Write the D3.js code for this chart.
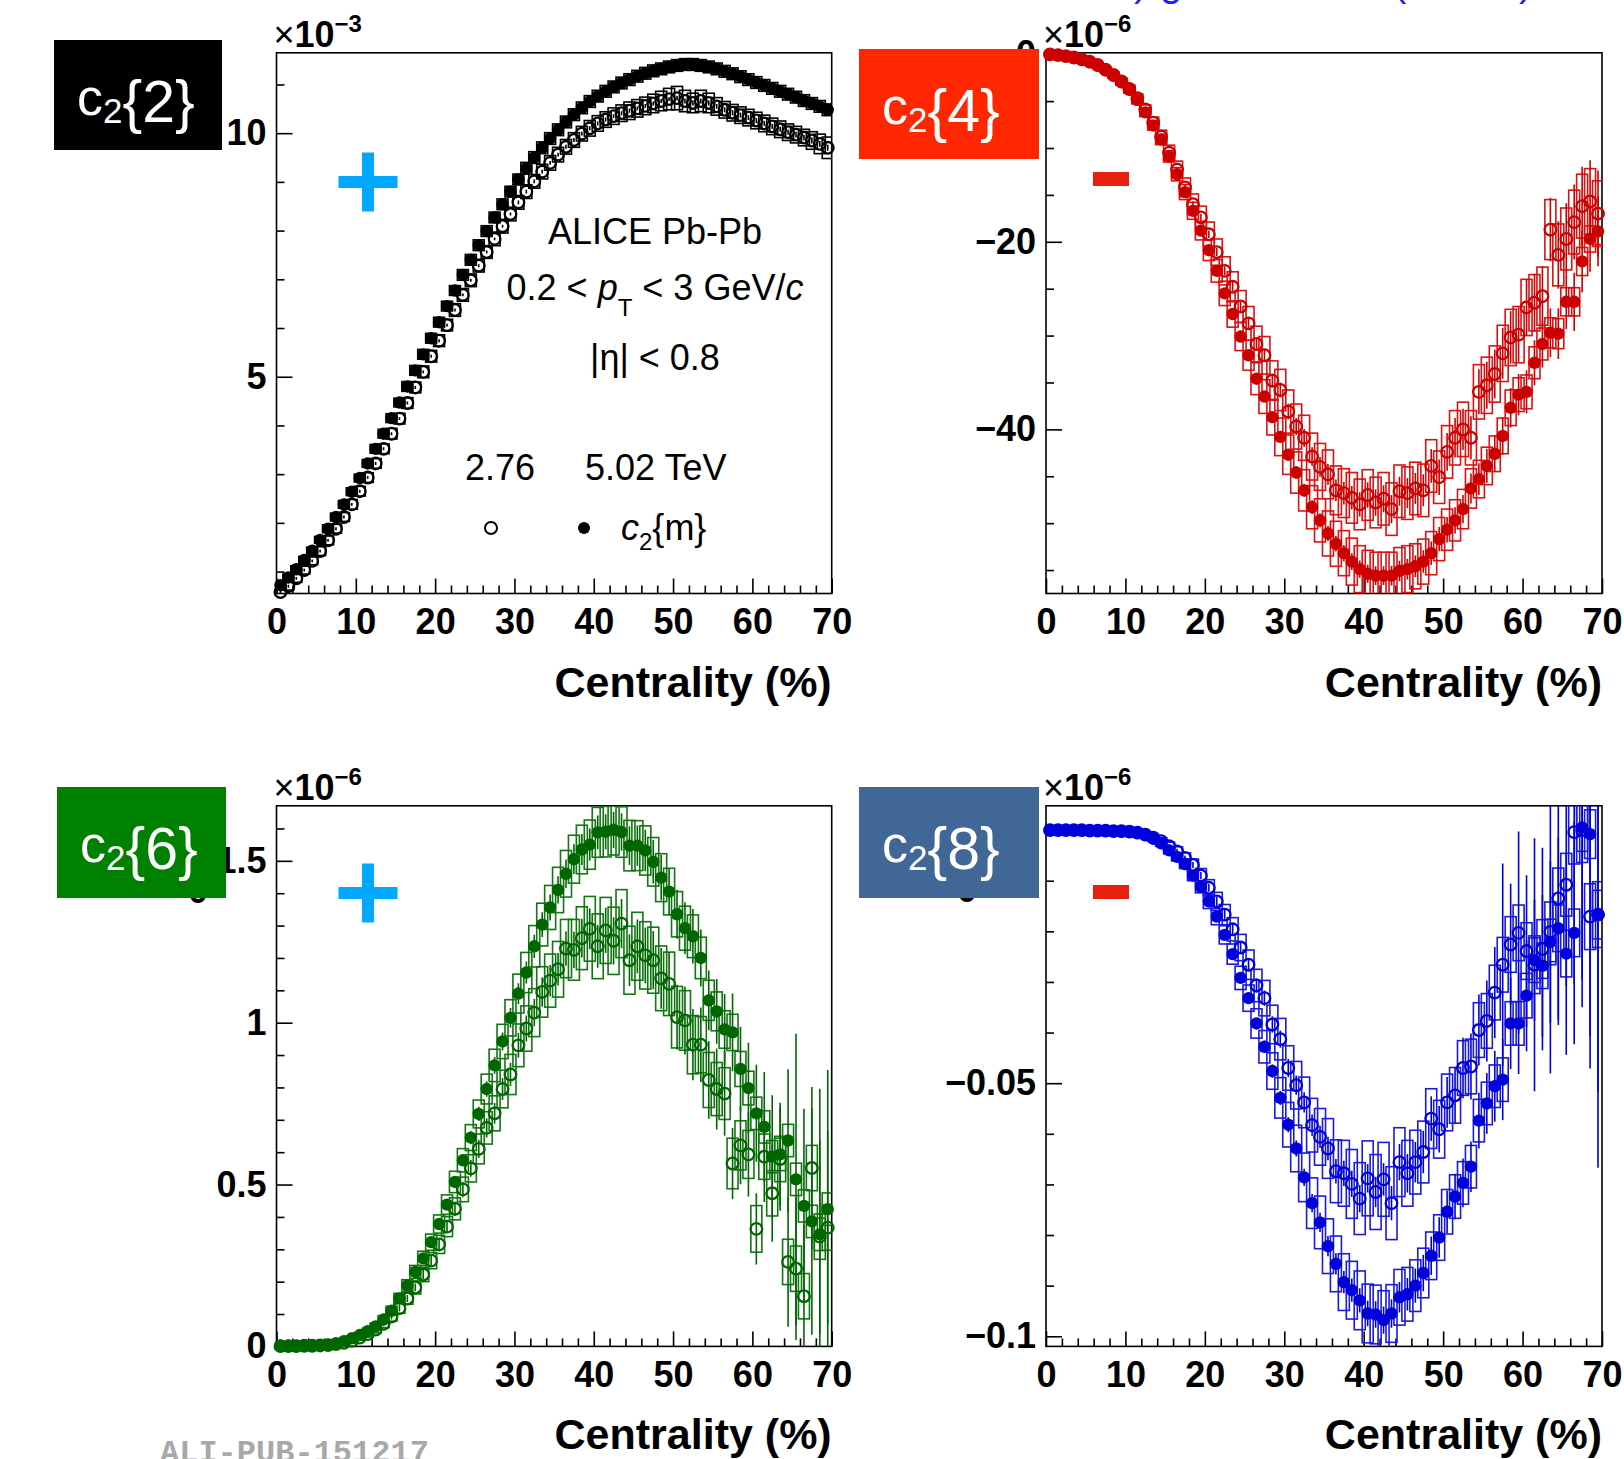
<!DOCTYPE html>
<html><head><meta charset="utf-8">
<script src="https://cdn.jsdelivr.net/npm/d3@7"></script>
<style>
html,body{margin:0;padding:0;background:#fff;overflow:hidden;}
svg{display:block;}
</style></head><body>
<script>
// ---------------- DATA ----------------
const centrality = [0.5,1.5,2.5,3.5,4.5,5.5,6.5,7.5,8.5,9.5,10.5,11.5,12.5,13.5,14.5,15.5,16.5,17.5,18.5,19.5,
 20.5,21.5,22.5,23.5,24.5,25.5,26.5,27.5,28.5,29.5,30.5,31.5,32.5,33.5,34.5,35.5,36.5,37.5,38.5,39.5,
 40.5,41.5,42.5,43.5,44.5,45.5,46.5,47.5,48.5,49.5,50.5,51.5,52.5,53.5,54.5,55.5,56.5,57.5,58.5,59.5,
 60.5,61.5,62.5,63.5,64.5,65.5,66.5,67.5,68.5,69.5];
const xTickLabels = [0,10,20,30,40,50,60,70];
const legendEnergies = ["2.76", "5.02 TeV"];
const panelLabels = ["2","4","6","8"];

// c2{2} (x1e-3)
const c2_2_502 = [0.72,0.88,1.05,1.24,1.43,1.65,1.88,2.12,2.38,2.64,
 2.92,3.22,3.52,3.83,4.15,4.47,4.80,5.13,5.46,5.79,
 6.12,6.45,6.77,7.09,7.40,7.70,7.99,8.27,8.54,8.80,
 9.05,9.28,9.50,9.70,9.89,10.07,10.23,10.38,10.52,10.65,
 10.76,10.86,10.95,11.03,11.10,11.17,11.23,11.28,11.32,11.36,
 11.39,11.41,11.41,11.39,11.36,11.32,11.27,11.22,11.16,11.10,
 11.04,10.98,10.92,10.86,10.80,10.74,10.67,10.61,10.55,10.48];
const c2_2_276 = [0.58,0.70,0.86,1.03,1.22,1.42,1.64,1.88,2.12,2.38,
 2.65,2.93,3.22,3.52,3.83,4.14,4.46,4.78,5.10,5.42,
 5.74,6.06,6.37,6.68,6.98,7.28,7.56,7.83,8.09,8.34,
 8.58,8.80,9.01,9.21,9.39,9.56,9.72,9.86,9.99,10.10,
 10.20,10.28,10.35,10.41,10.46,10.51,10.56,10.61,10.66,10.70,
 10.72,10.66,10.62,10.66,10.62,10.55,10.48,10.42,10.37,10.32,
 10.26,10.20,10.14,10.08,10.02,9.97,9.91,9.85,9.78,9.70];
const sys_2_502 = [0.07,0.07,0.07,0.07,0.07,0.07,0.08,0.08,0.08,0.08,
 0.08,0.08,0.09,0.09,0.09,0.09,0.1,0.1,0.1,0.1,
 0.1,0.1,0.1,0.11,0.11,0.11,0.11,0.11,0.11,0.11,
 0.11,0.12,0.12,0.12,0.12,0.12,0.12,0.12,0.12,0.12,
 0.12,0.12,0.12,0.12,0.12,0.12,0.12,0.12,0.12,0.12,
 0.12,0.12,0.12,0.12,0.12,0.12,0.12,0.12,0.12,0.12,
 0.12,0.12,0.12,0.12,0.12,0.12,0.12,0.12,0.12,0.12];
const sys_2_276 = [0.08,0.08,0.08,0.08,0.08,0.09,0.09,0.09,0.09,0.1,
 0.1,0.1,0.1,0.1,0.11,0.11,0.11,0.11,0.12,0.12,
 0.12,0.12,0.13,0.13,0.13,0.13,0.13,0.14,0.14,0.14,
 0.14,0.14,0.14,0.15,0.15,0.15,0.15,0.15,0.15,0.16,
 0.16,0.16,0.17,0.17,0.18,0.18,0.18,0.19,0.2,0.22,
 0.24,0.22,0.2,0.22,0.2,0.18,0.17,0.17,0.17,0.17,
 0.17,0.17,0.17,0.17,0.17,0.17,0.17,0.18,0.2,0.22];
const stat_2_502 = [0.02,0.02,0.02,0.02,0.02,0.02,0.02,0.02,0.02,0.02,
 0.02,0.02,0.02,0.02,0.02,0.02,0.02,0.02,0.02,0.02,
 0.02,0.02,0.02,0.02,0.02,0.02,0.02,0.02,0.02,0.02,
 0.02,0.02,0.02,0.02,0.02,0.02,0.02,0.02,0.02,0.02,
 0.03,0.03,0.03,0.03,0.03,0.03,0.03,0.03,0.03,0.03,
 0.03,0.03,0.03,0.03,0.03,0.03,0.03,0.03,0.03,0.03,
 0.03,0.03,0.03,0.03,0.03,0.04,0.04,0.04,0.04,0.04];
const stat_2_276 = [0.03,0.03,0.03,0.03,0.03,0.03,0.03,0.03,0.03,0.03,
 0.03,0.03,0.03,0.03,0.03,0.03,0.03,0.03,0.03,0.03,
 0.03,0.03,0.03,0.03,0.03,0.03,0.03,0.03,0.03,0.03,
 0.04,0.04,0.04,0.04,0.04,0.04,0.04,0.04,0.04,0.04,
 0.04,0.04,0.04,0.04,0.04,0.04,0.04,0.04,0.04,0.04,
 0.05,0.05,0.05,0.05,0.05,0.05,0.05,0.05,0.05,0.05,
 0.05,0.05,0.05,0.05,0.05,0.06,0.06,0.06,0.06,0.06];

// c2{4} (x1e-6)
const c2_4_502 = [-0.02,-0.1,-0.2,-0.35,-0.55,-0.8,-1.2,-1.7,-2.3,-3.0,
 -3.8,-4.9,-6.2,-7.6,-9.1,-10.9,-12.8,-14.7,-16.7,-18.8,
 -20.9,-23.1,-25.5,-27.7,-30.1,-32.1,-34.6,-36.5,-38.7,-40.8,
 -42.7,-44.6,-46.5,-48.3,-49.7,-51.1,-52.2,-53.2,-54.1,-54.9,
 -55.4,-55.6,-55.6,-55.6,-55.1,-54.9,-54.6,-54.1,-53.2,-51.7,
 -50.7,-49.7,-48.5,-46.3,-45.3,-43.9,-42.6,-40.7,-37.7,-36.3,
 -36.0,-32.9,-30.9,-29.7,-29.8,-26.4,-26.4,-22.1,-19.7,-18.9];
const c2_4_276 = [-0.02,-0.1,-0.2,-0.35,-0.55,-0.8,-1.15,-1.65,-2.2,-2.9,
 -3.7,-4.7,-5.9,-7.3,-8.8,-10.5,-12.3,-14.2,-16.0,-17.4,
 -19.2,-21.1,-23.1,-24.8,-26.9,-28.7,-30.9,-32.1,-34.8,-35.8,
 -38.1,-39.7,-40.9,-42.9,-44.0,-44.8,-46.5,-46.8,-47.3,-48.0,
 -47.0,-47.8,-47.4,-48.5,-46.6,-46.8,-46.3,-46.5,-43.9,-45.1,
 -42.4,-40.9,-40.0,-40.9,-36.0,-35.3,-34.1,-31.9,-30.2,-29.9,
 -27.0,-26.5,-25.8,-18.7,-21.4,-19.7,-17.9,-16.2,-15.7,-17.0];
const sys_4_502 = [0.1,0.1,0.1,0.1,0.15,0.15,0.2,0.2,0.25,0.3,
 0.35,0.4,0.45,0.5,0.55,0.6,0.7,0.8,0.9,1.0,
 1.1,1.2,1.3,1.4,1.5,1.6,1.7,1.8,1.9,2.0,
 2.1,2.2,2.2,2.3,2.3,2.4,2.4,2.4,2.5,2.5,
 2.5,2.5,2.5,2.5,2.5,2.5,2.4,2.4,2.3,2.3,
 2.2,2.2,2.1,2.1,2.0,2.0,1.9,1.9,1.9,1.8,
 1.8,1.7,1.7,1.6,1.6,1.5,1.5,1.5,1.4,1.4];
const sys_4_276 = [0.1,0.1,0.1,0.12,0.15,0.18,0.2,0.25,0.3,0.35,
 0.4,0.45,0.5,0.6,0.7,0.8,0.9,1.0,1.1,1.2,
 1.3,1.4,1.5,1.6,1.7,1.8,1.9,2.0,2.1,2.2,
 2.3,2.4,2.4,2.5,2.5,2.6,2.6,2.6,2.7,2.7,
 2.7,2.7,2.8,2.8,2.8,2.8,2.8,2.8,2.8,2.8,
 2.8,2.9,2.9,2.9,2.9,3.0,3.0,3.0,3.0,3.0,
 3.0,3.0,3.1,3.2,3.3,3.3,3.4,3.4,3.5,3.5];
const stat_4_502 = [0.05,0.05,0.05,0.05,0.05,0.06,0.06,0.07,0.08,0.09,
 0.1,0.11,0.12,0.14,0.16,0.18,0.2,0.22,0.25,0.28,
 0.3,0.33,0.36,0.4,0.43,0.46,0.5,0.53,0.56,0.6,
 0.63,0.66,0.7,0.73,0.76,0.8,0.83,0.86,0.9,0.93,
 0.96,1.0,1.0,1.05,1.1,1.1,1.15,1.2,1.25,1.3,
 1.35,1.4,1.5,1.6,1.7,1.8,1.9,2.0,2.1,2.2,
 2.3,2.4,2.5,2.6,2.7,2.9,3.1,3.3,3.5,3.7];
const stat_4_276 = [0.06,0.06,0.06,0.06,0.06,0.07,0.07,0.08,0.09,0.1,
 0.12,0.14,0.16,0.18,0.2,0.23,0.26,0.29,0.32,0.35,
 0.4,0.44,0.48,0.52,0.56,0.6,0.65,0.7,0.75,0.8,
 0.85,0.9,0.95,1.0,1.05,1.1,1.15,1.2,1.25,1.3,
 1.35,1.4,1.45,1.5,1.55,1.6,1.65,1.7,1.8,1.9,
 2.0,2.1,2.2,2.3,2.4,2.5,2.6,2.7,2.8,2.9,
 3.0,3.1,3.2,3.4,3.6,3.8,4.0,4.2,4.4,4.6];

// c2{6} (x1e-6)
const c2_6_502 = [0.002,0.002,0.002,0.002,0.003,0.004,0.005,0.009,0.016,0.025,
 0.035,0.047,0.062,0.083,0.11,0.148,0.188,0.23,0.272,0.322,
 0.378,0.438,0.508,0.575,0.645,0.718,0.795,0.868,0.942,1.015,
 1.09,1.155,1.236,1.303,1.356,1.41,1.46,1.505,1.535,1.55,
 1.588,1.59,1.596,1.589,1.547,1.547,1.532,1.497,1.448,1.405,
 1.335,1.292,1.267,1.2,1.069,1.035,0.979,0.97,0.857,0.798,
 0.72,0.678,0.586,0.593,0.636,0.516,0.434,0.386,0.346,0.424];
const c2_6_276 = [0.001,0.001,0.001,0.002,0.002,0.003,0.004,0.007,0.011,0.017,
 0.027,0.038,0.052,0.07,0.092,0.118,0.148,0.182,0.222,0.265,
 0.315,0.37,0.425,0.485,0.55,0.61,0.675,0.72,0.795,0.84,
 0.93,0.982,1.031,1.095,1.13,1.165,1.229,1.225,1.261,1.29,
 1.236,1.285,1.253,1.306,1.193,1.236,1.208,1.193,1.137,1.12,
 1.017,1.007,0.932,0.932,0.823,0.795,0.781,0.565,0.621,0.593,
 0.363,0.586,0.473,0.579,0.261,0.24,0.155,0.551,0.339,0.367];
const sys_6_502 = [0.003,0.003,0.003,0.003,0.003,0.004,0.004,0.005,0.006,0.007,
 0.008,0.009,0.01,0.012,0.014,0.016,0.018,0.02,0.022,0.025,
 0.028,0.03,0.033,0.036,0.04,0.043,0.046,0.05,0.053,0.056,
 0.06,0.062,0.064,0.066,0.068,0.07,0.072,0.074,0.075,0.076,
 0.077,0.078,0.078,0.078,0.078,0.077,0.076,0.075,0.074,0.072,
 0.07,0.068,0.066,0.064,0.062,0.06,0.058,0.056,0.054,0.052,
 0.05,0.05,0.05,0.05,0.05,0.05,0.05,0.05,0.05,0.05];
const sys_6_276 = [0.003,0.003,0.003,0.003,0.003,0.004,0.004,0.005,0.006,0.007,
 0.008,0.009,0.01,0.012,0.014,0.016,0.018,0.02,0.022,0.025,
 0.028,0.031,0.034,0.038,0.042,0.046,0.05,0.054,0.058,0.062,
 0.066,0.07,0.074,0.078,0.082,0.086,0.09,0.094,0.097,0.1,
 0.1,0.102,0.104,0.105,0.105,0.105,0.104,0.102,0.1,0.098,
 0.095,0.092,0.09,0.087,0.085,0.082,0.08,0.078,0.076,0.074,
 0.072,0.07,0.07,0.07,0.07,0.07,0.07,0.07,0.07,0.07];
const stat_6_502 = [0.001,0.001,0.001,0.001,0.001,0.002,0.002,0.002,0.003,0.003,
 0.004,0.005,0.006,0.007,0.008,0.009,0.01,0.011,0.012,0.013,
 0.014,0.015,0.016,0.018,0.02,0.022,0.024,0.026,0.028,0.03,
 0.032,0.034,0.036,0.038,0.04,0.042,0.044,0.046,0.048,0.05,
 0.052,0.054,0.056,0.058,0.06,0.062,0.064,0.067,0.07,0.073,
 0.076,0.08,0.084,0.088,0.092,0.1,0.11,0.12,0.13,0.14,
 0.15,0.17,0.19,0.16,0.22,0.45,0.3,0.35,0.45,0.43];
const stat_6_276 = [0.001,0.001,0.001,0.001,0.002,0.002,0.002,0.003,0.003,0.004,
 0.005,0.006,0.007,0.008,0.009,0.01,0.011,0.012,0.014,0.016,
 0.018,0.02,0.022,0.024,0.026,0.028,0.03,0.032,0.034,0.036,
 0.038,0.04,0.042,0.045,0.048,0.05,0.053,0.056,0.06,0.063,
 0.066,0.07,0.073,0.076,0.08,0.083,0.086,0.09,0.094,0.098,
 0.1,0.105,0.11,0.115,0.12,0.125,0.13,0.11,0.12,0.13,
 0.11,0.14,0.15,0.16,0.2,0.22,0.22,0.25,0.3,0.3];

// c2{8} (x1e-6)
const c2_8_502 = [0,0,0,0,-0.0001,-0.0001,-0.0001,-0.0002,-0.0002,-0.0003,
 -0.0004,-0.0006,-0.001,-0.0017,-0.0026,-0.004,-0.0053,-0.0067,-0.009,-0.0112,
 -0.0141,-0.0171,-0.0207,-0.0245,-0.0292,-0.0332,-0.0382,-0.0428,-0.0476,-0.0529,
 -0.0582,-0.0629,-0.0686,-0.0737,-0.0775,-0.0822,-0.0857,-0.0893,-0.0909,-0.0929,
 -0.0955,-0.0957,-0.0968,-0.0955,-0.0923,-0.0917,-0.09,-0.0875,-0.0841,-0.0805,
 -0.0754,-0.0724,-0.0697,-0.0665,-0.0574,-0.054,-0.0506,-0.0493,-0.0382,-0.0382,
 -0.0327,-0.0257,-0.0268,-0.0221,-0.0194,-0.0244,-0.0203,0.0005,-0.0008,-0.0167];
const c2_8_276 = [0,0,0,0,0,-0.0001,-0.0001,-0.0001,-0.0002,-0.0002,
 -0.0003,-0.0005,-0.0009,-0.0015,-0.0022,-0.0032,-0.0042,-0.0055,-0.0069,-0.009,
 -0.0114,-0.0141,-0.0167,-0.0196,-0.0232,-0.0266,-0.0307,-0.0332,-0.0384,-0.0413,
 -0.047,-0.0504,-0.0538,-0.0583,-0.0606,-0.0629,-0.0674,-0.0678,-0.0699,-0.0728,
 -0.0688,-0.0715,-0.069,-0.0737,-0.0656,-0.0678,-0.0656,-0.0636,-0.057,-0.0591,
 -0.0538,-0.0524,-0.047,-0.0467,-0.0395,-0.0377,-0.0321,-0.0266,-0.0226,-0.0203,
 -0.0239,-0.0266,-0.0235,-0.0201,-0.0135,-0.0108,-0.0004,0,-0.0171,-0.0167];
const sys_8_502 = [0.0002,0.0002,0.0002,0.0002,0.0002,0.0002,0.0002,0.0002,0.0003,0.0003,
 0.0003,0.0004,0.0004,0.0005,0.0006,0.0007,0.0008,0.0009,0.001,0.0012,
 0.0014,0.0016,0.0018,0.002,0.0023,0.0026,0.0029,0.0032,0.0036,0.004,
 0.0044,0.0046,0.0048,0.005,0.0052,0.0054,0.0055,0.0056,0.0057,0.0058,
 0.0058,0.0058,0.0058,0.0057,0.0055,0.0053,0.0051,0.0049,0.0047,0.0045,
 0.0044,0.0043,0.0042,0.0042,0.0042,0.0042,0.0042,0.0043,0.0043,0.0043,
 0.0044,0.0044,0.0045,0.0045,0.0046,0.0046,0.0047,0.0047,0.0048,0.0048];
const sys_8_276 = [0.0002,0.0002,0.0002,0.0002,0.0002,0.0002,0.0002,0.0003,0.0003,0.0003,
 0.0004,0.0004,0.0005,0.0006,0.0007,0.0008,0.0009,0.001,0.0012,0.0014,
 0.0016,0.0018,0.002,0.0023,0.0026,0.0029,0.0032,0.0035,0.0038,0.0041,
 0.0044,0.0047,0.005,0.0053,0.0056,0.0059,0.0062,0.0065,0.0068,0.0071,
 0.0074,0.0074,0.0073,0.0072,0.0068,0.0065,0.0063,0.0061,0.0059,0.0057,
 0.0056,0.0055,0.0054,0.0054,0.0054,0.0054,0.0054,0.0054,0.0055,0.0055,
 0.0056,0.0057,0.0058,0.0059,0.006,0.0062,0.0063,0.0064,0.0065,0.0065];
const stat_8_502 = [0.0001,0.0001,0.0001,0.0001,0.0001,0.0001,0.0001,0.0001,0.0001,0.0001,
 0.0001,0.0001,0.0002,0.0002,0.0002,0.0003,0.0003,0.0004,0.0004,0.0005,
 0.0005,0.0006,0.0007,0.0008,0.0009,0.001,0.0011,0.0012,0.0013,0.0014,
 0.0015,0.0016,0.0017,0.0018,0.0019,0.002,0.0021,0.0022,0.0023,0.0024,
 0.0025,0.0026,0.0027,0.0028,0.003,0.0032,0.0034,0.0036,0.0038,0.004,
 0.0042,0.0045,0.0048,0.005,0.0055,0.006,0.007,0.008,0.009,0.01,
 0.011,0.012,0.014,0.016,0.018,0.02,0.022,0.03,0.04,0.05];
const stat_8_276 = [0.0001,0.0001,0.0001,0.0001,0.0001,0.0001,0.0001,0.0001,0.0001,0.0002,
 0.0002,0.0002,0.0003,0.0003,0.0004,0.0004,0.0005,0.0005,0.0006,0.0007,
 0.0008,0.0009,0.001,0.0011,0.0012,0.0013,0.0014,0.0015,0.0016,0.0017,
 0.0018,0.0019,0.002,0.0021,0.0022,0.0023,0.0024,0.0025,0.0026,0.0027,
 0.0028,0.003,0.0032,0.0034,0.0036,0.0038,0.004,0.0042,0.0044,0.0046,
 0.005,0.0055,0.006,0.0065,0.007,0.008,0.009,0.02,0.012,0.02,
 0.015,0.025,0.02,0.028,0.025,0.02,0.03,0.035,0.03,0.035];

// ---------------- LAYOUT ----------------
const W = 1624, H = 1459;
const SANS = "'Liberation Sans', Arial, Helvetica, sans-serif";
const BOX_HW = 5.5;

const panels = [
  {id:"p1", left:276.5, right:831.7, top:52.8, bottom:593.5, yDomain:[0.55,11.65],
   yMajor:[5,10], yMinor:[1,2,3,4,6,7,8,9,11], exp:"\u22123", color:"#000", boxColor:"#000",
   open:c2_2_276, filled:c2_2_502, sysO:sys_2_276, sysF:sys_2_502, statO:stat_2_276, statF:stat_2_502,
   label:panelLabels[0], lbox:{x:54,y:40,w:168,h:110,fill:"#000"}, sign:"plus", signPos:[368,182]},
  {id:"p2", left:1046, right:1602, top:52.8, bottom:593.5, yDomain:[-57.5,0.15],
   yMajor:[0,-20,-40], yMinor:[-5,-10,-15,-25,-30,-35,-45,-50,-55], exp:"\u22126", color:"#cc0000", boxColor:"#dd1111",
   open:c2_4_276, filled:c2_4_502, sysO:sys_4_276, sysF:sys_4_502, statO:stat_4_276, statF:stat_4_502,
   label:panelLabels[1], lbox:{x:859,y:49,w:180,h:110,fill:"#ff2600"}, sign:"minus", signPos:[1111,179]},
  {id:"p3", left:276.5, right:831.7, top:805.8, bottom:1346.4, yDomain:[0,1.67],
   yMajor:[0,0.5,1,1.5], yMinor:[0.1,0.2,0.3,0.4,0.6,0.7,0.8,0.9,1.1,1.2,1.3,1.4,1.6], exp:"\u22126", color:"#006600", boxColor:"#117711",
   open:c2_6_276, filled:c2_6_502, sysO:sys_6_276, sysF:sys_6_502, statO:stat_6_276, statF:stat_6_502,
   label:panelLabels[2], lbox:{x:57,y:787,w:169,h:111,fill:"#008000"}, sign:"plus", signPos:[368,893], peek:[198,903]},
  {id:"p4", left:1046, right:1602, top:805.8, bottom:1346.4, yDomain:[-0.102,0.0048],
   yMajor:[0,-0.05,-0.1], yMinor:[-0.01,-0.02,-0.03,-0.04,-0.06,-0.07,-0.08,-0.09], exp:"\u22126", color:"#0000dd", boxColor:"#1a1ae0",
   open:c2_8_276, filled:c2_8_502, sysO:sys_8_276, sysF:sys_8_502, statO:stat_8_276, statF:stat_8_502,
   label:panelLabels[3], lbox:{x:859,y:787,w:180,h:111,fill:"#416796"}, sign:"minus", signPos:[1111,892], peek:[967,902]}
];

const svg = d3.select("body").append("svg").attr("width", W).attr("height", H)
  .attr("font-family", SANS);
svg.append("rect").attr("width", W).attr("height", H).attr("fill", "#fff");
const defs = svg.append("defs");

panels.forEach(p => {
  const x = d3.scaleLinear().domain([0,70]).range([p.left, p.right]);
  const y = d3.scaleLinear().domain(p.yDomain).range([p.bottom, p.top]);
  const g = svg.append("g");
  const clipId = "clip-" + p.id;
  defs.append("clipPath").attr("id", clipId).append("rect")
    .attr("x", p.left).attr("y", p.top).attr("width", p.right - p.left).attr("height", p.bottom - p.top);

  const xMinorVals = d3.range(0, 70.01, 2).filter(v => v % 10 !== 0);
  const styleAxis = a => {
    a.select(".domain").remove();
    a.attr("font-family", SANS).attr("font-size", 36).attr("font-weight", "bold");
    a.selectAll("line").attr("stroke", "#000").attr("stroke-width", 1.6);
    a.selectAll("text").attr("fill", "#000");
  };
  g.append("g").attr("transform", `translate(0,${p.bottom})`)
    .call(d3.axisBottom(x).tickValues(xTickLabels).tickSizeInner(-15).tickSizeOuter(0).tickPadding(15).tickFormat(d3.format("d")))
    .call(styleAxis);
  g.append("g").attr("transform", `translate(0,${p.bottom})`)
    .call(d3.axisBottom(x).tickValues(xMinorVals).tickSizeInner(-8).tickSizeOuter(0).tickFormat(""))
    .call(styleAxis);
  g.append("g").attr("transform", `translate(${p.left},0)`)
    .call(d3.axisLeft(y).tickValues(p.yMajor).tickSizeInner(-16).tickSizeOuter(0).tickPadding(10).tickFormat(d3.format("")))
    .call(styleAxis);
  g.append("g").attr("transform", `translate(${p.left},0)`)
    .call(d3.axisLeft(y).tickValues(p.yMinor).tickSizeInner(-8).tickSizeOuter(0).tickFormat(""))
    .call(styleAxis);

  g.append("rect").attr("x", p.left).attr("y", p.top).attr("width", p.right - p.left).attr("height", p.bottom - p.top)
    .attr("fill", "none").attr("stroke", "#000").attr("stroke-width", 1.6);

  const ex = g.append("text").attr("x", p.left - 3).attr("y", p.top - 6).attr("font-size", 36).attr("fill", "#000");
  ex.append("tspan").attr("font-weight", "normal").text("\u00d7");
  ex.append("tspan").attr("font-weight", "bold").text("10");
  ex.append("tspan").attr("font-weight", "bold").attr("font-size", 24).attr("dy", -15).text(p.exp);

  g.append("text").attr("x", p.right).attr("y", p.bottom + 103).attr("text-anchor", "end")
    .attr("font-size", 43).attr("font-weight", "bold").attr("fill", "#000").text("Centrality (%)");

  const mk = (vals, sys, stat) => centrality.map((c, i) => ({c, v: vals[i], s: sys[i], e: stat[i]}));
  const dO = mk(p.open, p.sysO, p.statO), dF = mk(p.filled, p.sysF, p.statF);

  const clipG = g.append("g").attr("clip-path", `url(#${clipId})`);
  [dO, dF].forEach(d => {
    clipG.append("g").selectAll("rect").data(d).join("rect")
      .attr("x", e => x(e.c) - BOX_HW).attr("width", 2 * BOX_HW)
      .attr("y", e => y(e.v + e.s)).attr("height", e => Math.max(0.5, y(e.v - e.s) - y(e.v + e.s)))
      .attr("fill", "none").attr("stroke", p.boxColor).attr("stroke-width", 1.6);
  });
  [dO, dF].forEach(d => {
    clipG.append("g").selectAll("line").data(d).join("line")
      .attr("x1", e => x(e.c)).attr("x2", e => x(e.c))
      .attr("y1", e => y(e.v + e.e)).attr("y2", e => y(e.v - e.e))
      .attr("stroke", p.color).attr("stroke-width", 1.6);
  });
  g.append("g").selectAll("circle").data(dO).join("circle")
    .attr("cx", e => x(e.c)).attr("cy", e => y(e.v)).attr("r", 5.8)
    .attr("fill", "none").attr("stroke", p.color).attr("stroke-width", 2.3);
  g.append("g").selectAll("circle").data(dF).join("circle")
    .attr("cx", e => x(e.c)).attr("cy", e => y(e.v)).attr("r", 6.2)
    .attr("fill", p.color);

  if (p.peek) {
    svg.append("text").attr("x", p.peek[0]).attr("y", p.peek[1]).attr("text-anchor", "middle")
      .attr("font-size", 35).attr("font-weight", "bold").attr("fill", "#000").text("0");
  }

  const b = p.lbox;
  svg.append("rect").attr("x", b.x).attr("y", b.y).attr("width", b.w).attr("height", b.h).attr("fill", b.fill);
  const t = svg.append("text").attr("x", b.x + 23).attr("y", b.y + 75).attr("fill", "#fff");
  t.append("tspan").attr("font-size", 52).text("c");
  t.append("tspan").attr("font-size", 35).attr("dy", 8).text("2");
  t.append("tspan").attr("font-size", 59).attr("dy", -1).text("{" + p.label + "}");

  const [cx, cy] = p.signPos;
  if (p.sign === "plus") {
    svg.append("rect").attr("x", cx - 29.5).attr("y", cy - 6).attr("width", 59).attr("height", 12).attr("fill", "#00a8ff");
    svg.append("rect").attr("x", cx - 6).attr("y", cy - 29.5).attr("width", 12).attr("height", 59).attr("fill", "#00a8ff");
  } else {
    svg.append("rect").attr("x", cx - 18).attr("y", cy - 7).attr("width", 36).attr("height", 14).attr("fill", "#e8200f");
  }

  if (p.id === "p1") {
    const lg = svg.append("g").attr("font-size", 36).attr("fill", "#000");
    lg.append("text").attr("x", 655).attr("y", 244).attr("text-anchor", "middle").text("ALICE Pb-Pb");
    const l2 = lg.append("text").attr("x", 655).attr("y", 300).attr("text-anchor", "middle");
    l2.append("tspan").text("0.2 < ");
    l2.append("tspan").attr("font-style", "italic").text("p");
    l2.append("tspan").attr("font-size", 24).attr("dy", 16).text("T");
    l2.append("tspan").attr("dy", -16).text(" < 3 GeV/");
    l2.append("tspan").attr("font-style", "italic").text("c");
    lg.append("text").attr("x", 655).attr("y", 370).attr("text-anchor", "middle").text("|\u03b7| < 0.8");
    lg.append("text").attr("x", 465).attr("y", 480).text(legendEnergies[0]);
    lg.append("text").attr("x", 585).attr("y", 480).text(legendEnergies[1]);
    lg.append("circle").attr("cx", 491).attr("cy", 528).attr("r", 6).attr("fill", "none").attr("stroke", "#000").attr("stroke-width", 2);
    lg.append("circle").attr("cx", 584).attr("cy", 528).attr("r", 6).attr("fill", "#000");
    const l5 = lg.append("text").attr("x", 621).attr("y", 540);
    l5.append("tspan").attr("font-style", "italic").text("c");
    l5.append("tspan").attr("font-size", 24).attr("dy", 10).text("2");
    l5.append("tspan").attr("dy", -10).text("{m}");
  }
});

const frag = svg.append("g").attr("fill", "#2222ee").attr("font-size", 40);
frag.append("text").attr("x", 1134).attr("y", -4).text(")");
frag.append("text").attr("x", 1160).attr("y", -4).text("g");
frag.append("text").attr("x", 1393).attr("y", -4).text("(");
frag.append("text").attr("x", 1519).attr("y", -4).text(")");

svg.append("text").attr("x", 160).attr("y", 1462).attr("font-family", "'Liberation Mono', 'DejaVu Sans Mono', monospace")
  .attr("font-weight", "bold").attr("font-size", 32).attr("fill", "#a8a8a8").text("ALI-PUB-151217");
</script>
</body></html>
